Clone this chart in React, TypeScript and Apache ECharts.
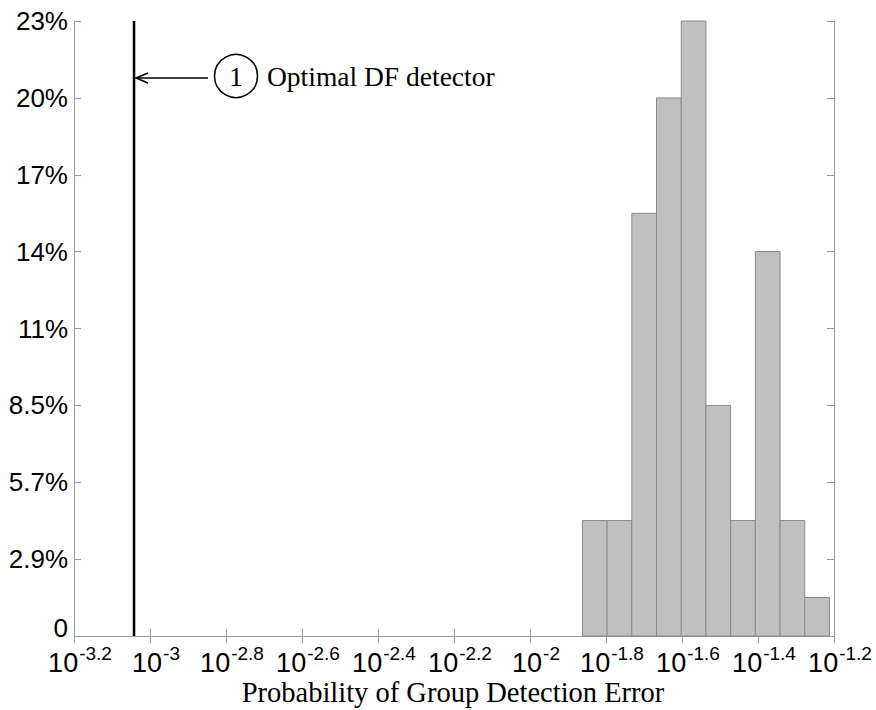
import React, { useEffect, useRef } from "react";
import * as echarts from "echarts";

// Histogram bins (log10 of probability) and their heights (percent of trials)
const binEdges = [-1.862, -1.797, -1.732, -1.667, -1.602, -1.537, -1.472, -1.407, -1.342, -1.277, -1.212];
const binPercent = [4.29, 4.29, 15.71, 20.0, 22.86, 8.57, 4.29, 14.29, 4.29, 1.43];
const yTickLabels = ["0", "2.9%", "5.7%", "8.5%", "11%", "14%", "17%", "20%", "23%"];
const xExponents = ["-3.2", "-3", "-2.8", "-2.6", "-2.4", "-2.2", "-2", "-1.8", "-1.6", "-1.4", "-1.2"];
const optimalDF = -3.042; // log10 of the optimal DF detector error
const annotationText = "Optimal DF detector";
const xTitle = "Probability of Group Detection Error";

const xMin = -3.2;
const xMax = -1.2;
const xStep = 0.2;
const yMax = 22.86;
const yStep = yMax / 8;

export default function App() {
  const ref = useRef<HTMLDivElement>(null);
  useEffect(() => {
    if (!ref.current) return;
    const chart = echarts.init(ref.current, null, { renderer: "svg" });
    const bars = binPercent.map((v, i) => [binEdges[i], binEdges[i + 1], v]);
    const axisColor = "#9a9a9a";
    const xLabel = (v: number) => {
      const idx = Math.round((v - xMin) / xStep);
      return `{b|10}{s|${xExponents[idx] ?? ""}}`;
    };
    const yLabel = (v: number) => {
      const idx = Math.round(v / yStep);
      const t = yTickLabels[idx] ?? "";
      return idx === 0 ? `{z|${t}}` : `{n|${t}}`;
    };
    const yRich = {
      n: { fontFamily: "Liberation Sans", fontSize: 26, color: "#000" },
      z: { fontFamily: "Liberation Sans", fontSize: 26, color: "#000", padding: [0, 0, 16, 0] },
    };
    const option: any = {
      animation: false,
      backgroundColor: "#ffffff",
      grid: { left: 74, right: 42, top: 21, bottom: 74, show: false, containLabel: false, outerBoundsMode: "none" },
      xAxis: [
        {
          type: "value",
          min: xMin,
          max: xMax,
          interval: xStep,
          position: "bottom",
          axisLine: { show: true, lineStyle: { color: axisColor, width: 1 } },
          axisTick: { show: true, inside: true, length: 7, lineStyle: { color: axisColor } },
          splitLine: { show: false },
          axisLabel: {
            margin: 8,
            formatter: xLabel,
            showMinLabel: true,
            showMaxLabel: true,
            hideOverlap: false,
            color: "#000",
            rich: {
              b: { fontFamily: "Liberation Sans", fontSize: 27, color: "#000", lineHeight: 32, verticalAlign: "bottom", padding: [0, 0, 0, 12] },
              s: { fontFamily: "Liberation Sans", fontSize: 19, color: "#000", lineHeight: 32, verticalAlign: "top", padding: [0, 0, 0, 1] },
            },
          },
        },
        {
          type: "value",
          min: xMin,
          max: xMax,
          interval: xStep,
          position: "top",
          axisLine: { show: true, lineStyle: { color: axisColor, width: 1 } },
          axisTick: { show: true, inside: true, length: 7, lineStyle: { color: axisColor } },
          axisLabel: { show: false },
          splitLine: { show: false },
        },
      ],
      yAxis: [
        {
          type: "value",
          min: 0,
          max: yMax,
          interval: yStep,
          position: "left",
          axisLine: { show: true, lineStyle: { color: axisColor, width: 1 } },
          axisTick: { show: true, inside: true, length: 7, lineStyle: { color: axisColor } },
          splitLine: { show: false },
          axisLabel: {
            margin: 6,
            formatter: yLabel,
            showMinLabel: true,
            showMaxLabel: true,
            color: "#000",
            rich: yRich,
          },
        },
        {
          type: "value",
          min: 0,
          max: yMax,
          interval: yStep,
          position: "right",
          axisLine: { show: true, lineStyle: { color: axisColor, width: 1 } },
          axisTick: { show: true, inside: true, length: 7, lineStyle: { color: axisColor } },
          axisLabel: { show: false },
          splitLine: { show: false },
        },
      ],
      series: [
        {
          type: "custom",
          xAxisIndex: 0,
          yAxisIndex: 0,
          data: bars,
          encode: { x: [0, 1], y: 2 },
          renderItem: (params: any, api: any) => {
            const p0 = api.coord([api.value(0), api.value(2)]);
            const p1 = api.coord([api.value(1), 0]);
            return {
              type: "rect",
              shape: { x: p0[0], y: p0[1], width: p1[0] - p0[0], height: p1[1] - p0[1] },
              style: { fill: "#c0c0c0", stroke: "#8a8a8a", lineWidth: 1 },
            };
          },
          z: 2,
        },
        {
          type: "line",
          xAxisIndex: 0,
          yAxisIndex: 0,
          data: [
            [optimalDF, 0],
            [optimalDF, yMax],
          ],
          symbol: "none",
          lineStyle: { color: "#000", width: 2.5 },
          z: 3,
        },
      ],
      graphic: [
        {
          type: "line",
          shape: { x1: 136, y1: 78, x2: 208, y2: 78 },
          style: { stroke: "#000", lineWidth: 1.5 },
        },
        {
          type: "polyline",
          shape: { points: [[148, 73], [136, 78], [148, 83]] },
          style: { stroke: "#000", lineWidth: 1.5, fill: null },
        },
        {
          type: "circle",
          shape: { cx: 236, cy: 76, r: 21.5 },
          style: { stroke: "#000", lineWidth: 1.5, fill: "none" },
        },
        {
          type: "text",
          x: 236,
          y: 77,
          style: { text: "1", fontFamily: "Liberation Serif", fontSize: 27, fill: "#000", align: "center", verticalAlign: "middle" },
        },
        {
          type: "text",
          x: 267,
          y: 76,
          style: { text: annotationText, fontFamily: "Liberation Serif", fontSize: 27.5, fill: "#000", align: "left", verticalAlign: "middle" },
        },
        {
          type: "text",
          x: 453,
          y: 692,
          style: { text: xTitle, fontFamily: "Liberation Serif", fontSize: 28.5, fill: "#000", align: "center", verticalAlign: "middle" },
        },
      ],
    };
    chart.setOption(option);
    return () => chart.dispose();
  }, []);
  return <div ref={ref} style={{ position: "absolute", left: 0, top: 0, width: 876, height: 710 }} />;
}
